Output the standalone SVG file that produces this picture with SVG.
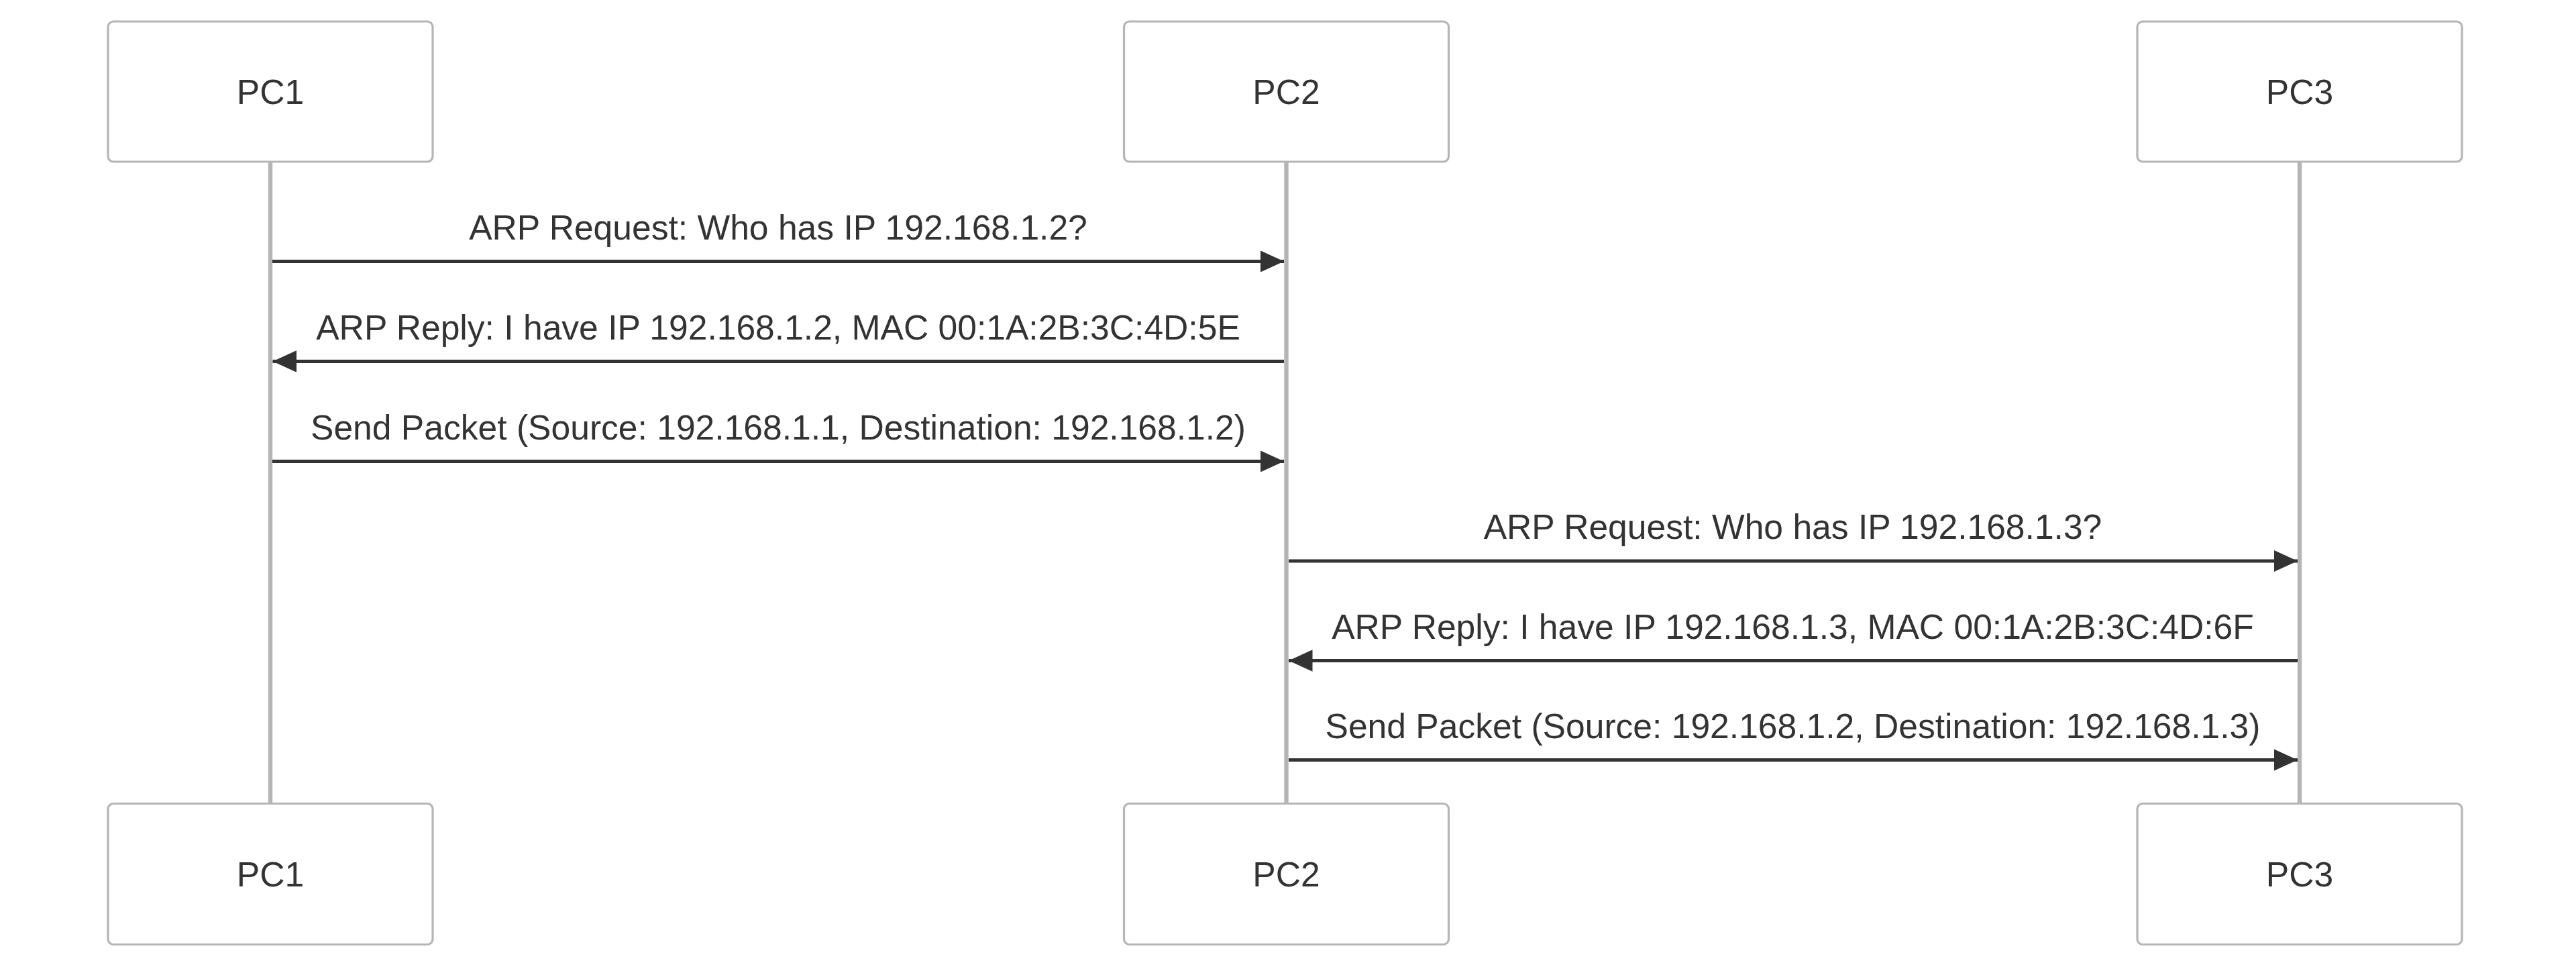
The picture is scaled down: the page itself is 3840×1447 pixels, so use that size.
<svg xmlns="http://www.w3.org/2000/svg" width="3840" height="1447" viewBox="0 0 3840 1447">
  <style>
    .actor { fill: #ffffff; stroke: #b5b5b5; stroke-width: 3.2; }
    .actor-text { font-family: "Liberation Sans", Arial, sans-serif; font-size: 51.6px; fill: #333333; text-anchor: middle; }
    .lifeline { stroke: #b5b5b5; stroke-width: 6.4; }
    .msg { stroke: #333333; stroke-width: 5; fill: none; }
    .msg-text { font-family: "Liberation Sans", Arial, sans-serif; font-size: 51.6px; fill: #333333; text-anchor: middle; }
  </style>
  <defs>
    <marker id="arrowhead" viewBox="-1 0 11 10" refX="10" refY="5" markerUnits="userSpaceOnUse" markerWidth="35.5" markerHeight="32.3" orient="auto">
      <path d="M -1 0 L 10 5 L -1 10 z" fill="#333333"/>
    </marker>
  </defs>
  <rect width="3840" height="1447" fill="#ffffff"/>

  <g id="lifelines">
    <line class="lifeline" x1="403" y1="241" x2="403" y2="1197.5"/>
    <line class="lifeline" x1="1917.5" y1="241" x2="1917.5" y2="1197.5"/>
    <line class="lifeline" x1="3428" y1="241" x2="3428" y2="1197.5"/>
  </g>

  <g id="PC1-top">
    <rect class="actor" x="161" y="32" width="484" height="209" rx="8" ry="8"/>
    <text class="actor-text" x="403" y="155">PC1</text>
  </g>
  <g id="PC2-top">
    <rect class="actor" x="1675.5" y="32" width="484" height="209" rx="8" ry="8"/>
    <text class="actor-text" x="1917.5" y="155">PC2</text>
  </g>
  <g id="PC3-top">
    <rect class="actor" x="3186" y="32" width="484" height="209" rx="8" ry="8"/>
    <text class="actor-text" x="3428" y="155">PC3</text>
  </g>
  <g id="PC1-bottom">
    <rect class="actor" x="161" y="1197.5" width="484" height="210" rx="8" ry="8"/>
    <text class="actor-text" x="403" y="1321">PC1</text>
  </g>
  <g id="PC2-bottom">
    <rect class="actor" x="1675.5" y="1197.5" width="484" height="210" rx="8" ry="8"/>
    <text class="actor-text" x="1917.5" y="1321">PC2</text>
  </g>
  <g id="PC3-bottom">
    <rect class="actor" x="3186" y="1197.5" width="484" height="210" rx="8" ry="8"/>
    <text class="actor-text" x="3428" y="1321">PC3</text>
  </g>

  <g id="connectors">
    <line class="msg" x1="406" y1="389.5" x2="1914" y2="389.5" marker-end="url(#arrowhead)"/>
    <text class="msg-text" x="1160" y="356.5">ARP Request: Who has IP 192.168.1.2?</text>

    <line class="msg" x1="1914" y1="538.5" x2="406.5" y2="538.5" marker-end="url(#arrowhead)"/>
    <text class="msg-text" x="1160" y="505.5">ARP Reply: I have IP 192.168.1.2, MAC 00:1A:2B:3C:4D:5E</text>

    <line class="msg" x1="406" y1="687.5" x2="1914" y2="687.5" marker-end="url(#arrowhead)"/>
    <text class="msg-text" x="1160" y="654.5">Send Packet (Source: 192.168.1.1, Destination: 192.168.1.2)</text>

    <line class="msg" x1="1921" y1="836" x2="3425" y2="836" marker-end="url(#arrowhead)"/>
    <text class="msg-text" x="2672.5" y="803">ARP Request: Who has IP 192.168.1.3?</text>

    <line class="msg" x1="3425" y1="984.5" x2="1921" y2="984.5" marker-end="url(#arrowhead)"/>
    <text class="msg-text" x="2672.5" y="951.5">ARP Reply: I have IP 192.168.1.3, MAC 00:1A:2B:3C:4D:6F</text>

    <line class="msg" x1="1921" y1="1132.5" x2="3425" y2="1132.5" marker-end="url(#arrowhead)"/>
    <text class="msg-text" x="2672.5" y="1099.5">Send Packet (Source: 192.168.1.2, Destination: 192.168.1.3)</text>
  </g>
</svg>
